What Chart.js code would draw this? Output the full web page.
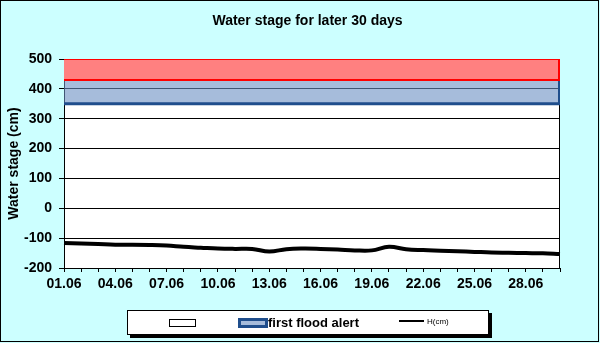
<!DOCTYPE html>
<html>
<head>
<meta charset="utf-8">
<script src="https://cdn.jsdelivr.net/npm/chart.js@4"></script>
<style>
    body { margin: 0; }
    #wrap {
        position: relative;
        width: 600px;
        height: 343px;
        background: #CCFFFF;
        font-family: "Liberation Sans", Arial, sans-serif;
        overflow: hidden;
    }
    #chart { position: absolute; left: 0; top: 0; }
    #frame {
        position: absolute; left: 0; top: 0;
        width: 599px; height: 342px;
        box-sizing: border-box;
        border: 1px solid #000;
        pointer-events: none;
    }
    #title {
        position: absolute; left: 0; top: 12px; width: 615px;
        text-align: center; font-size: 14px; font-weight: bold; line-height: 16px;
    }
    #legend {
        position: absolute; left: 127px; top: 310px;
        width: 362px; height: 25px; box-sizing: border-box;
        background: #fff; border: 1px solid #000;
        box-shadow: 3px 3px 0 #000;
    }
    .lg { position: absolute; }
</style>
</head>
<body>
<div id="wrap">
    <canvas id="chart" width="600" height="343"></canvas>
    <div id="title">Water stage for later 30 days</div>
    <div id="legend">
        <div class="lg" style="left:41px; top:8px; width:27px; height:8px; box-sizing:border-box; border:1px solid #000; background:#fff;"></div>
        <div class="lg" style="left:110px; top:7px; width:30px; height:10px; box-sizing:border-box; border:3px solid #1F4E8C; background:#A6BCDB;"></div>
        <div class="lg" style="left:140px; top:5px; font-size:13px; font-weight:bold; line-height:13px; white-space:nowrap;">first flood alert</div>
        <div class="lg" style="left:271px; top:9px; width:25px; height:2px; background:#000;"></div>
        <div class="lg" style="left:299px; top:7px; font-size:8px; line-height:8px; white-space:nowrap;">H(cm)</div>
    </div>
    <div id="frame"></div>
</div>
<script>
    // Данные графика
    const dates = ['01.06', '02.06', '03.06', '04.06', '05.06', '06.06', '07.06', '08.06', '09.06', '10.06',
        '11.06', '12.06', '13.06', '14.06', '15.06', '16.06', '17.06', '18.06', '19.06', '20.06',
        '21.06', '22.06', '23.06', '24.06', '25.06', '26.06', '27.06', '28.06', '29.06', '30.06'];
    const waterStage = [-116, -118, -120, -122, -122, -123, -125, -129, -132, -135,
        -136, -136, -145, -137, -135, -136, -138, -141, -141, -129,
        -137, -140, -142, -144, -146, -148, -149, -150, -151, -153];
    // верх красной полосы, граница красной/синей, первый уровень тревоги
    const alertLevels = [500, 430, 350];
    const yTicks = [500, 400, 300, 200, 100, 0, -100, -200];

    const FONT = '"Liberation Sans", Arial, sans-serif';

    // горизонтальная линия уровня на всю ширину оси
    function levelLine(v) {
        return [{ x: dates[0], y: v }, { x: dates[dates.length - 1], y: v }];
    }

    // белая область графика + рамка, и правые края полос
    const plotArea = {
        id: 'plotArea',
        beforeDraw(chart) {
            const { ctx, chartArea: a } = chart;
            ctx.save();
            ctx.fillStyle = '#fff';
            ctx.fillRect(a.left, a.top, a.right - a.left, a.bottom - a.top);
            ctx.strokeStyle = '#000';
            ctx.lineWidth = 1;
            ctx.strokeRect(a.left + 0.5, a.top + 0.5, a.right - a.left - 1, a.bottom - a.top);
            ctx.restore();
        },
        afterDatasetsDraw(chart) {
            const { ctx, chartArea: a, scales: { y } } = chart;
            ctx.save();
            ctx.lineWidth = 2;
            ctx.strokeStyle = '#FF0000';
            ctx.beginPath();
            ctx.moveTo(a.right - 1, y.getPixelForValue(alertLevels[0]));
            ctx.lineTo(a.right - 1, y.getPixelForValue(alertLevels[1]));
            ctx.stroke();
            ctx.strokeStyle = '#1F4E8C';
            ctx.beginPath();
            ctx.moveTo(a.right - 1, y.getPixelForValue(alertLevels[1]) + 1);
            ctx.lineTo(a.right - 1, y.getPixelForValue(alertLevels[2]));
            ctx.stroke();
            ctx.restore();
        }
    };

    new Chart(document.getElementById('chart'), {
        type: 'line',
        data: {
            labels: dates,
            datasets: [{
                label: 'H(cm)',
                data: waterStage,
                borderColor: '#000',
                borderWidth: 4,
                tension: 0.4,
                pointRadius: 0,
                fill: false
            }, {
                label: '',
                data: levelLine(alertLevels[0]),
                borderColor: '#FF0000',
                borderWidth: 2,
                pointRadius: 0,
                backgroundColor: '#FF8080',
                fill: '+1'
            }, {
                label: '',
                data: levelLine(alertLevels[1]),
                borderColor: '#FF0000',
                borderWidth: 2,
                pointRadius: 0,
                backgroundColor: 'rgba(107, 143, 195, 0.6)',
                fill: '+1'
            }, {
                label: 'first flood alert',
                data: levelLine(alertLevels[2]),
                borderColor: '#1F4E8C',
                borderWidth: 3,
                pointRadius: 0,
                fill: false
            }]
        },
        options: {
            responsive: false,
            animation: false,
            layout: { padding: { top: 59, right: 40, left: 0, bottom: 0 } },
            plugins: {
                legend: { display: false },
                tooltip: { enabled: false },
                filler: { drawTime: 'beforeDatasetsDraw' }
            },
            scales: {
                x: {
                    type: 'category',
                    offset: false,
                    afterFit(scale) { scale.height = 75; },
                    grid: { drawOnChartArea: false, drawTicks: true, tickLength: 4, color: '#000' },
                    border: { color: '#000', width: 1 },
                    ticks: {
                        autoSkip: false,
                        maxRotation: 0,
                        padding: 4,
                        color: '#000',
                        font: { family: FONT, size: 14, weight: 'bold' },
                        callback: (v, i) => (i % 3 === 0 ? dates[i] : '')
                    }
                },
                y: {
                    min: yTicks[yTicks.length - 1],
                    max: yTicks[0],
                    afterFit(scale) { scale.width = 64; },
                    afterBuildTicks(scale) { scale.ticks = yTicks.map(v => ({ value: v })); },
                    grid: { color: '#000', lineWidth: 1, tickLength: 5 },
                    border: { color: '#000', width: 1 },
                    ticks: {
                        padding: 7,
                        color: '#000',
                        font: { family: FONT, size: 14, weight: 'bold' }
                    },
                    title: {
                        display: true,
                        text: 'Water stage (cm)',
                        color: '#000',
                        font: { family: FONT, size: 14, weight: 'bold' },
                        padding: { top: 6, bottom: 0 }
                    }
                }
            }
        },
        plugins: [plotArea]
    });
</script>
</body>
</html>
